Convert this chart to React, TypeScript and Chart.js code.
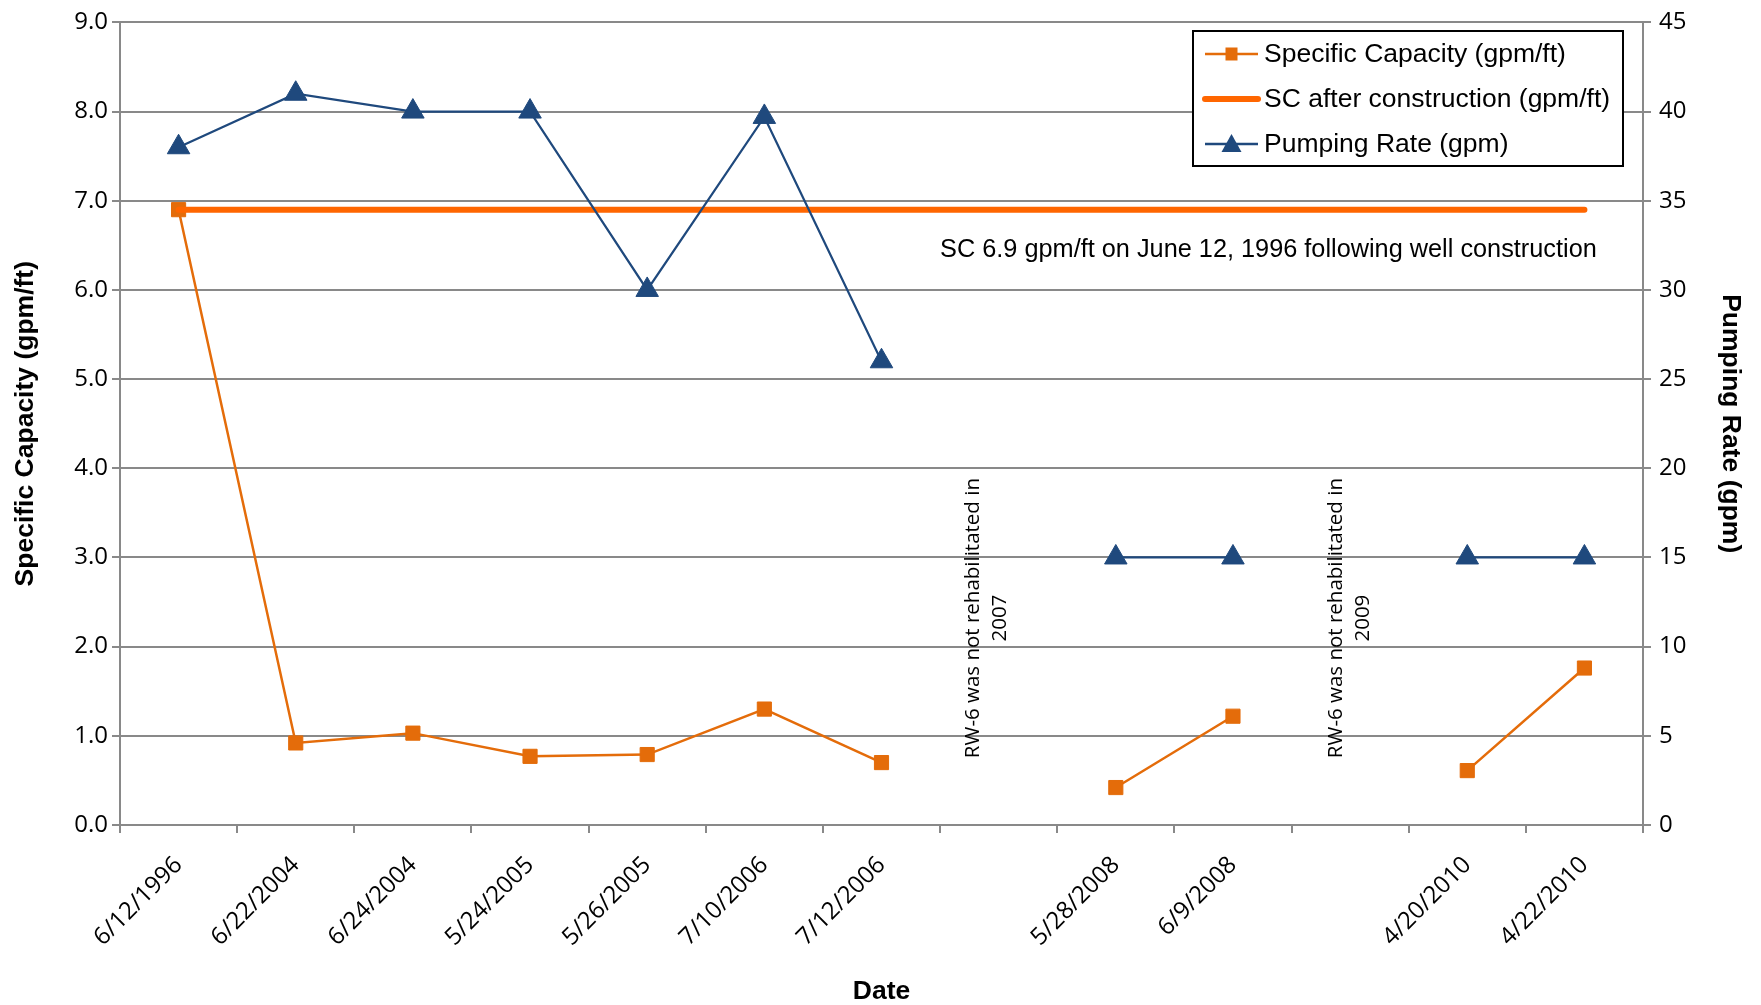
import { useEffect, useRef } from 'react';
import { Chart, registerables } from 'chart.js';

Chart.register(...registerables);

const dates = ['6/12/1996', '6/22/2004', '6/24/2004', '5/24/2005', '5/26/2005', '7/10/2006', '7/12/2006', '', '5/28/2008', '6/9/2008', '', '4/20/2010', '4/22/2010'];
const specificCapacity = [6.9, 0.92, 1.03, 0.77, 0.79, 1.3, 0.7, null, 0.42, 1.22, null, 0.61, 1.76];
const scAfterConstruction = [6.9, 6.9, 6.9, 6.9, 6.9, 6.9, 6.9, 6.9, 6.9, 6.9, 6.9, 6.9, 6.9];
const pumpingRate = [38, 41, 40, 40, 30, 39.7, 26, null, 15, 15, null, 15, 15];

const leftAxisMax = 9;
const rightAxisMax = 45;
const scNote = 'SC 6.9 gpm/ft on June 12, 1996 following well construction';
const rehabNotes = [
  { index: 6.9, value: 2.32, lines: ['RW-6 was not rehabilitated in', '2007'] },
  { index: 10, value: 2.32, lines: ['RW-6 was not rehabilitated in', '2009'] },
];
const legendItems = ['Specific Capacity (gpm/ft)', 'SC after construction (gpm/ft)', 'Pumping Rate (gpm)'];

const SC_COLOR = '#E46C0A';
const SC_AFTER_COLOR = '#FF6600';
const PR_COLOR = '#1F497D';
const GRID = '#898989';

const overlayPlugin = {
  id: 'overlay',
  afterDatasetsDraw(chart: any) {
    const ctx = chart.ctx;
    const xs = chart.scales.x;
    const ys = chart.scales.y;
    ctx.save();
    ctx.fillStyle = '#000';
    ctx.font = '25.3px "Liberation Sans", Arial, sans-serif';
    ctx.textAlign = 'left';
    ctx.textBaseline = 'middle';
    ctx.fillText(scNote, xs.getPixelForValue(6.5), ys.getPixelForValue(6.45));

    ctx.font = '20.5px "Open Sans", sans-serif';
    ctx.textAlign = 'center';
    for (const n of rehabNotes) {
      const cx = xs.getPixelForValue(n.index);
      const cy = ys.getPixelForValue(n.value);
      ctx.save();
      ctx.translate(cx, cy);
      ctx.rotate(-Math.PI / 2);
      const lh = 27;
      n.lines.forEach((line, i) => {
        const off = (i - (n.lines.length - 1) / 2) * lh;
        ctx.fillText(line, 0, off);
      });
      ctx.restore();
    }
    ctx.restore();
  },
  afterDraw(chart: any) {
    const ctx = chart.ctx;
    ctx.save();
    const bx = 1193, by = 31, bw = 430, bh = 135;
    ctx.fillStyle = '#fff';
    ctx.fillRect(bx, by, bw, bh);
    ctx.strokeStyle = '#000';
    ctx.lineWidth = 2;
    ctx.strokeRect(bx, by, bw, bh);
    const rows = [54, 99, 144];
    const x0 = 1205, x1 = 1258;
    ctx.strokeStyle = SC_COLOR;
    ctx.lineWidth = 2.5;
    ctx.beginPath();
    ctx.moveTo(x0, rows[0]);
    ctx.lineTo(x1, rows[0]);
    ctx.stroke();
    ctx.fillStyle = SC_COLOR;
    ctx.fillRect((x0 + x1) / 2 - 6, rows[0] - 6.5, 12, 13);
    ctx.strokeStyle = SC_AFTER_COLOR;
    ctx.lineWidth = 6;
    ctx.lineCap = 'round';
    ctx.beginPath();
    ctx.moveTo(x0, rows[1]);
    ctx.lineTo(x1, rows[1]);
    ctx.stroke();
    ctx.lineCap = 'butt';
    ctx.strokeStyle = PR_COLOR;
    ctx.lineWidth = 2.5;
    ctx.beginPath();
    ctx.moveTo(x0, rows[2]);
    ctx.lineTo(x1, rows[2]);
    ctx.stroke();
    ctx.fillStyle = PR_COLOR;
    const mx = (x0 + x1) / 2;
    ctx.beginPath();
    ctx.moveTo(mx, rows[2] - 10);
    ctx.lineTo(mx + 10, rows[2] + 8);
    ctx.lineTo(mx - 10, rows[2] + 8);
    ctx.closePath();
    ctx.fill();

    ctx.fillStyle = '#000';
    ctx.font = '26.5px "Liberation Sans", Arial, sans-serif';
    ctx.textAlign = 'left';
    ctx.textBaseline = 'middle';
    legendItems.forEach((t, i) => ctx.fillText(t, 1264, rows[i] + 1));
    ctx.restore();
  },
};

export default function App() {
  const ref = useRef<HTMLCanvasElement | null>(null);
  useEffect(() => {
    if (!ref.current) return;
    const chart = new Chart(ref.current, {
      type: 'line',
      data: {
        labels: dates,
        datasets: [
          {
            label: legendItems[0],
            data: specificCapacity,
            yAxisID: 'y',
            borderColor: SC_COLOR,
            backgroundColor: SC_COLOR,
            borderWidth: 2.5,
            pointStyle: 'rect',
            pointRadius: 10,
            pointBorderWidth: 1,
            spanGaps: false,
            order: 3,
          },
          {
            label: legendItems[1],
            data: scAfterConstruction,
            yAxisID: 'y',
            borderColor: SC_AFTER_COLOR,
            backgroundColor: SC_AFTER_COLOR,
            borderWidth: 6,
            borderCapStyle: 'round',
            pointRadius: 0,
            order: 2,
          },
          {
            label: legendItems[2],
            data: pumpingRate,
            yAxisID: 'y1',
            borderColor: PR_COLOR,
            backgroundColor: PR_COLOR,
            borderWidth: 2.2,
            pointStyle: 'triangle',
            pointRadius: 13,
            pointBorderWidth: 1,
            spanGaps: false,
            order: 1,
          },
        ],
      },
      options: {
        animation: false,
        responsive: false,
        devicePixelRatio: 1,
        layout: { padding: { top: 9, left: 0, right: 0, bottom: 0 } },
        plugins: { legend: { display: false }, tooltip: { enabled: false } },
        scales: {
          x: {
            type: 'category',
            offset: true,
            grid: { offset: true, drawOnChartArea: false, drawTicks: true, tickLength: 8, color: GRID, lineWidth: 2 },
            border: { display: true, color: GRID, width: 2 },
            ticks: {
              autoSkip: false,
              maxRotation: 45,
              minRotation: 45,
              padding: 18,
              color: '#000',
              font: { family: '"Open Sans", sans-serif', size: 24 },
            },
            title: {
              display: true,
              text: 'Date',
              color: '#000',
              font: { family: '"Liberation Sans", Arial, sans-serif', size: 26.5, weight: 'bold' },
              padding: { top: 0, bottom: -3 },
            },
            afterFit: (s: any) => { s.height = 180; },
          },
          y: {
            position: 'left',
            min: 0,
            max: leftAxisMax,
            grid: { color: GRID, lineWidth: 2, tickLength: 8, drawTicks: true },
            border: { display: true, color: GRID, width: 2 },
            ticks: {
              stepSize: 1,
              padding: 4,
              color: '#000',
              font: { family: '"Open Sans", sans-serif', size: 24 },
              callback: (v: any) => Number(v).toFixed(1),
            },
            title: {
              display: true,
              text: 'Specific Capacity (gpm/ft)',
              color: '#000',
              font: { family: '"Liberation Sans", Arial, sans-serif', size: 26.5, weight: 'bold' },
              padding: { top: 10, bottom: 0 },
            },
            afterFit: (s: any) => { s.width = 120; },
          },
          y1: {
            position: 'right',
            min: 0,
            max: rightAxisMax,
            grid: { drawOnChartArea: false, color: GRID, lineWidth: 2, tickLength: 8, drawTicks: true },
            border: { display: true, color: GRID, width: 2 },
            ticks: {
              stepSize: 5,
              padding: 8,
              color: '#000',
              font: { family: '"Open Sans", sans-serif', size: 24 },
              callback: (v: any) => String(v),
            },
            title: {
              display: true,
              text: 'Pumping Rate (gpm)',
              color: '#000',
              font: { family: '"Liberation Sans", Arial, sans-serif', size: 26.5, weight: 'bold' },
              padding: { top: 15, bottom: 0 },
            },
            afterFit: (s: any) => { s.width = 118; },
          },
        },
      },
      plugins: [overlayPlugin],
    });
    return () => chart.destroy();
  }, []);

  return (
    <div style={{ position: 'fixed', left: 0, top: 0, width: 1761, height: 1005, background: '#fff' }}>
      <canvas ref={ref} width={1761} height={1005} style={{ width: 1761, height: 1005, display: 'block' }} />
    </div>
  );
}
